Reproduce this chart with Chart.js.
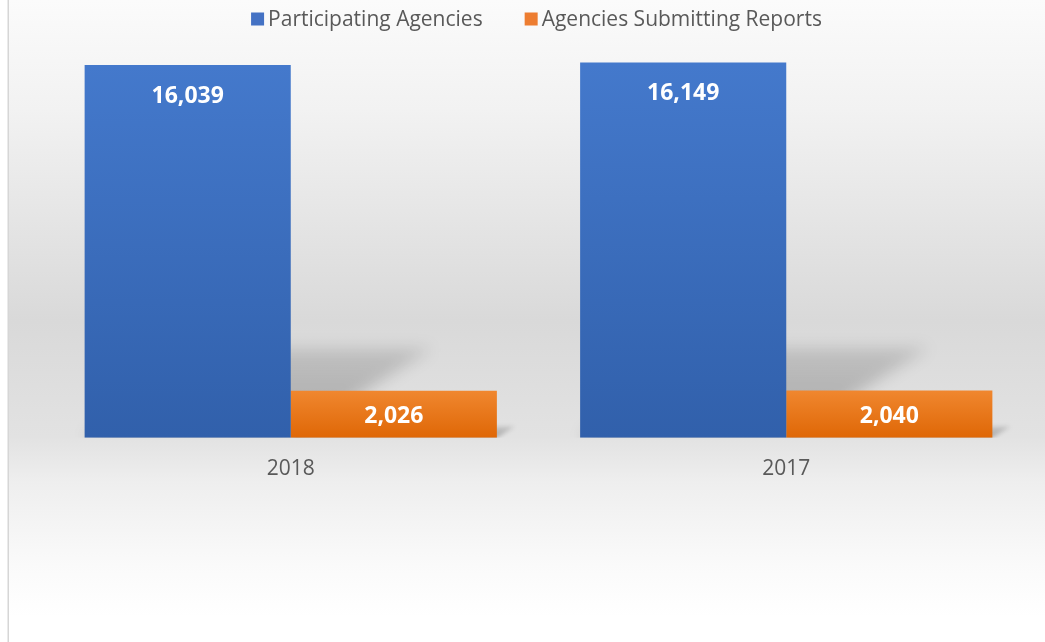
<!DOCTYPE html>
<html>
<head>
<meta charset="utf-8">
<style>
  html, body { margin: 0; padding: 0; background: #fff; }
  #wrap { width: 1045px; height: 642px; }
</style>
<script src="https://cdn.jsdelivr.net/npm/chart.js@4.4.1/dist/chart.umd.min.js"></script>
</head>
<body>
<div id="wrap"><canvas id="c" width="1045" height="642"></canvas></div>
<script>
// data
const years = ['2018', '2017'];
const participating = [16039, 16149];
const submitting = [2026, 2040];
const seriesNames = ['Participating Agencies', 'Agencies Submitting Reports'];

const FONT = "'Open Sans', 'Noto Sans', sans-serif";
const TXT = '#595959';

// bar gradient, per bar, light at top, dark at bottom
function barGradient(top, bottom) {
  return (ctx) => {
    const chart = ctx.chart;
    if (!chart.chartArea || ctx.raw == null) return top;
    const y = chart.scales.y;
    const y0 = y.getPixelForValue(ctx.raw);
    const y1 = y.getPixelForValue(0);
    const g = chart.ctx.createLinearGradient(0, y0, 0, y1);
    g.addColorStop(0, top);
    g.addColorStop(1, bottom);
    return g;
  };
}

// grey background like the office chart
const bgPlugin = {
  id: 'bg',
  beforeDraw(chart) {
    const { ctx, width, height } = chart;
    ctx.save();
    const g = ctx.createLinearGradient(0, 0, 0, height);
    g.addColorStop(0, '#fbfbfb');
    g.addColorStop(0.17, '#f2f2f2');
    g.addColorStop(0.5, '#d9d9d9');
    g.addColorStop(0.68, '#e2e2e2');
    g.addColorStop(0.75, '#eeeeee');
    g.addColorStop(0.88, '#fafafa');
    g.addColorStop(0.96, '#ffffff');
    ctx.fillStyle = g;
    ctx.fillRect(9, 0, width - 9, height);
    ctx.fillStyle = '#d6d6d6';
    ctx.fillRect(7.5, 0, 1.5, height);
    ctx.restore();
  }
};

// perspective shadow behind each bar
const shadowPlugin = {
  id: 'pshadow',
  beforeDatasetsDraw(chart) {
    const ctx = chart.ctx;
    ctx.save();
    ctx.beginPath();
    ctx.rect(chart.chartArea.left - 20, 0, chart.width, chart.chartArea.bottom);
    ctx.clip();
    chart.data.datasets.forEach((ds, di) => {
      chart.getDatasetMeta(di).data.forEach(bar => {
        const p = bar.getProps(['x', 'y', 'base', 'width'], true);
        const h = p.base - p.y;
        const hs = h * 0.24, s = h * 0.38;
        const l = p.x - p.width / 2, r = p.x + p.width / 2;
        const g = ctx.createLinearGradient(0, p.base, 0, p.base - hs);
        g.addColorStop(0, 'rgba(0,0,0,0.26)');
        g.addColorStop(1, 'rgba(0,0,0,0.12)');
        ctx.filter = 'blur(' + Math.max(2, h * 0.02) + 'px)';
        ctx.fillStyle = g;
        ctx.beginPath();
        ctx.moveTo(l, p.base);
        ctx.lineTo(r, p.base);
        ctx.lineTo(r + s, p.base - hs);
        ctx.lineTo(l + s, p.base - hs);
        ctx.closePath();
        ctx.fill();
      });
    });
    ctx.filter = 'none';
    ctx.restore();
  }
};

// value labels inside bars
const labelPlugin = {
  id: 'vlabels',
  afterDatasetsDraw(chart) {
    const ctx = chart.ctx;
    ctx.save();
    ctx.font = 'bold 23px ' + FONT;
    ctx.fillStyle = '#ffffff';
    ctx.textAlign = 'center';
    ctx.textBaseline = 'middle';
    chart.data.datasets.forEach((ds, di) => {
      chart.getDatasetMeta(di).data.forEach((bar, i) => {
        const p = bar.getProps(['x', 'y', 'base'], true);
        const y = Math.min(p.y + 31, (p.y + p.base) / 2 + 2);
        ctx.fillText(ds.data[i].toLocaleString('en-US'), p.x, y);
      });
    });
    ctx.restore();
  }
};

// legend drawn by hand so the spacing matches
const legendPlugin = {
  id: 'mylegend',
  afterDraw(chart) {
    const ctx = chart.ctx;
    const box = 13, gapTxt = 4, gapItem = 42, cy = 19;
    ctx.save();
    ctx.font = '21px ' + FONT;
    ctx.textBaseline = 'middle';
    const items = chart.data.datasets.map(ds => ({ text: ds.label, color: ds.legendColor, w: ctx.measureText(ds.label).width }));
    const total = items.reduce((s, it) => s + box + gapTxt + it.w, 0) + gapItem * (items.length - 1);
    let x = (chart.chartArea.left + chart.chartArea.right) / 2 - total / 2 - 2;
    items.forEach(it => {
      ctx.fillStyle = it.color;
      ctx.fillRect(x, cy - box / 2, box, box);
      ctx.fillStyle = TXT;
      ctx.fillText(it.text, x + box + gapTxt, cy + 1);
      x += box + gapTxt + it.w + gapItem;
    });
    ctx.restore();
  }
};

new Chart(document.getElementById('c'), {
  type: 'bar',
  data: {
    labels: years,
    datasets: [
      { label: seriesNames[0], data: participating, legendColor: '#4472c4',
        backgroundColor: barGradient('#4479cc', '#3160ab') },
      { label: seriesNames[1], data: submitting, legendColor: '#ed7d31',
        backgroundColor: barGradient('#f0872f', '#df6706') }
    ]
  },
  options: {
    responsive: false,
    animation: false,
    layout: { padding: { left: 43, right: 11, top: 38, bottom: 141 } },
    plugins: { legend: { display: false }, tooltip: { enabled: false } },
    datasets: { bar: { categoryPercentage: 0.832, barPercentage: 1 } },
    scales: {
      x: {
        grid: { display: false, drawTicks: false },
        border: { display: false },
        ticks: { color: TXT, padding: 19, font: { family: FONT, size: 21 } }
      },
      y: { display: false, min: 0, max: 17200 }
    }
  },
  plugins: [bgPlugin, shadowPlugin, labelPlugin, legendPlugin]
});
</script>
</body>
</html>
